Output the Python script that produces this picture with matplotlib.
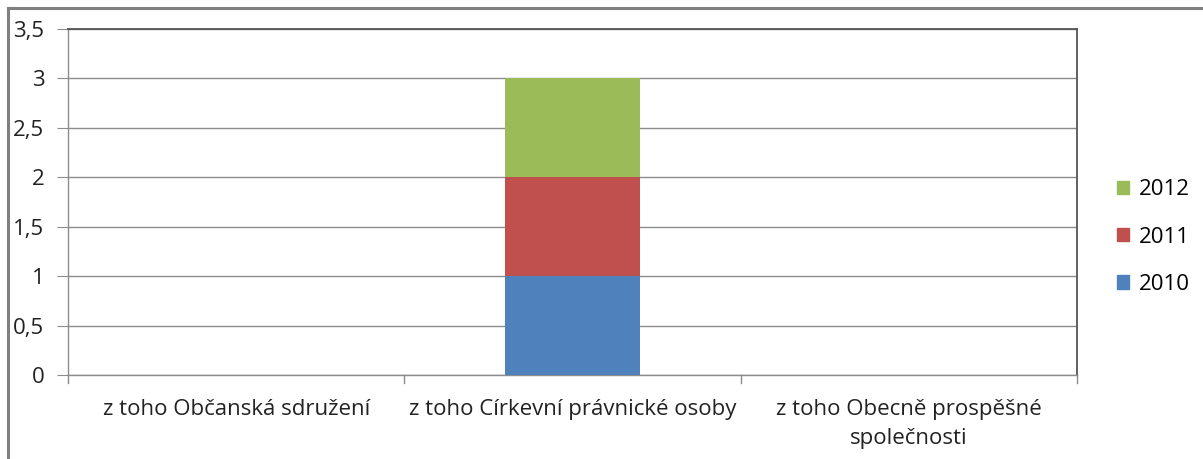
import matplotlib.pyplot as plt
from matplotlib.lines import Line2D
from matplotlib.patches import Patch

categories = ["z toho Občanská sdružení",
              "z toho Církevní právnické osoby",
              "z toho Obecně prospěšné\nspolečnosti"]
years = ["2010", "2011", "2012"]
values_2010 = [0, 1, 0]
values_2011 = [0, 1, 0]
values_2012 = [0, 1, 0]
y_ticks = [0, 0.5, 1, 1.5, 2, 2.5, 3, 3.5]
y_tick_labels = ["0", "0,5", "1", "1,5", "2", "2,5", "3", "3,5"]

colors = ["#4F81BD", "#C0504D", "#9BBB59"]
series = [values_2010, values_2011, values_2012]

plt.rcParams['font.family'] = ['Open Sans', 'DejaVu Sans']

fig = plt.figure(figsize=(12.03, 4.59), dpi=100)
ax = fig.add_axes([68 / 1203, 1 - 375 / 459, (1077 - 68) / 1203, (375 - 29) / 459])

x = list(range(len(categories)))
bottom = [0] * len(categories)
for vals, col, yr in zip(series, colors, years):
    ax.bar(x, vals, width=0.4, bottom=bottom, color=col, label=yr, zorder=3)
    bottom = [b + v for b, v in zip(bottom, vals)]

ax.set_xlim(-0.5, len(categories) - 0.5)
ax.set_ylim(0, 3.5)
ax.set_yticks(y_ticks)
ax.set_yticklabels(y_tick_labels, fontsize=16, color="#222222")
ax.yaxis.grid(True, color="#8c8c8c", linewidth=1, zorder=0)

ax.set_xticks(x)
ax.set_xticklabels(categories, fontsize=16, color="#222222", linespacing=1.5)
ax.tick_params(axis='x', length=0, pad=17)
ax.tick_params(axis='y', length=8, color="#8c8c8c", pad=9)

# category boundary tick marks below the axis
for b in [-0.5, 0.5, 1.5, 2.5]:
    ax.add_line(Line2D([b, b], [0, -0.085], color="#8c8c8c", linewidth=1,
                       clip_on=False, transform=ax.transData))

for side in ["left", "bottom"]:
    ax.spines[side].set_color("#8c8c8c")
    ax.spines[side].set_linewidth(1)
for side in ["top", "right"]:
    ax.spines[side].set_color("#555555")
    ax.spines[side].set_linewidth(1.3)

handles = [Patch(facecolor=c, edgecolor=c) for c in colors[::-1]]
fig.legend(handles, years[::-1], loc="center left",
           bbox_to_anchor=(1097 / 1203, 1 - 237 / 459), frameon=False,
           fontsize=16, handlelength=0.55, handleheight=0.55, handletextpad=0.45,
           labelspacing=1.18)

# outer chart frame (top and left edges)
fig.add_artist(Line2D([8 / 1203, 8 / 1203], [0, 1 - 8 / 459], color="#808080",
                      linewidth=2.2, transform=fig.transFigure))
fig.add_artist(Line2D([8 / 1203, 1], [1 - 8 / 459, 1 - 8 / 459], color="#808080",
                      linewidth=2.2, transform=fig.transFigure))

fig.savefig("out.png", dpi=100)
